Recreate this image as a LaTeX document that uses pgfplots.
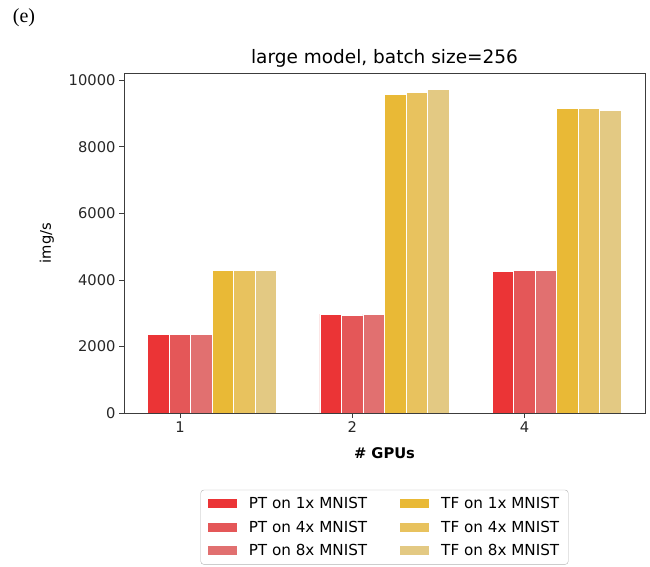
\documentclass[border=0pt]{standalone}
\usepackage{pgfplots}
\pgfplotsset{compat=1.18}
\usepackage{fontspec}
\setmainfont{DejaVu Sans}
\newfontfamily\seriffont{Liberation Serif}
\definecolor{pt1}{RGB}{235,52,54}
\definecolor{pt4}{RGB}{228,87,88}
\definecolor{pt8}{RGB}{225,112,112}
\definecolor{tf1}{RGB}{233,185,54}
\definecolor{tf4}{RGB}{232,194,94}
\definecolor{tf8}{RGB}{227,201,131}
\definecolor{axgray}{RGB}{60,60,60}
\begin{document}
\begin{tikzpicture}
\path[use as bounding box] (0,0) rectangle (650pt,567pt);
\node[font=\seriffont\fontsize{20}{23}\selectfont, anchor=center] at (24pt,549pt) {(e)};
\begin{axis}[
  at={(124pt,154pt)}, anchor=south west,
  width=521pt, height=340pt, scale only axis,
  xmin=-0.325, xmax=2.7, ymin=0, ymax=10220,
  xtick={0,1,2}, xticklabels={1,2,4},
  ytick={0,2000,4000,6000,8000,10000},
  scaled y ticks=false,
  /pgf/number format/assume math mode=true,
  /pgf/number format/1000 sep={},
  tick label style={font=\fontsize{14.7}{17}\selectfont, text=black!85},
  tick align=outside, major tick length=5pt,
  xtick pos=bottom, ytick pos=left,
  axis line style={axgray, line width=0.9pt},
  tick style={axgray, line width=0.8pt},
  every axis title shift=0pt,
  title={large model, batch size=256},
  title style={font=\fontsize{18.5}{21}\selectfont, at={(axis description cs:0.5,1.0285)}, anchor=base, yshift=0pt},
  xlabel={\textbf{\# GPUs}},
  xlabel style={font=\fontsize{14.7}{17}\selectfont, at={(axis description cs:0.5,-0.118)}, anchor=center, yshift=0pt},
  ylabel={img/s},
  ylabel style={font=\fontsize{14.7}{17}\selectfont, at={(axis description cs:-0.148,0.5)}, anchor=center, yshift=0pt},
  legend columns=2,
  legend style={at={(axis description cs:0.5,-0.226)}, anchor=north,
    font=\fontsize{15.2}{17.5}\selectfont, draw=black!30, rounded corners=3pt,
    inner xsep=7pt, inner ysep=5.5pt, row sep=6.5pt,
    /tikz/every odd column/.append style={column sep=10pt},
    /tikz/every even column/.append style={column sep=31pt}},
  legend image code/.code={\fill[#1, draw=none, sharp corners] (0pt,-4.5pt) rectangle (29pt,4.5pt);},
  legend cell align=left,
]
\addplot[ybar, bar width=0.125, bar shift=0pt, fill=pt1, draw=white, line width=0.8pt] coordinates {(-0.125,2365) (0.875,2975) (1.875,4250)};
\addplot[ybar, bar width=0.125, bar shift=0pt, fill=tf1, draw=white, line width=0.8pt] coordinates {(0.25,4293) (1.25,9578) (2.25,9156)};
\addplot[ybar, bar width=0.125, bar shift=0pt, fill=pt4, draw=white, line width=0.8pt] coordinates {(0,2365) (1,2925) (2,4290)};
\addplot[ybar, bar width=0.125, bar shift=0pt, fill=tf4, draw=white, line width=0.8pt] coordinates {(0.375,4293) (1.375,9628) (2.375,9156)};
\addplot[ybar, bar width=0.125, bar shift=0pt, fill=pt8, draw=white, line width=0.8pt] coordinates {(0.125,2365) (1.125,2975) (2.125,4290)};
\addplot[ybar, bar width=0.125, bar shift=0pt, fill=tf8, draw=white, line width=0.8pt] coordinates {(0.5,4293) (1.5,9730) (2.5,9105)};
\legend{PT on 1x MNIST, TF on 1x MNIST, PT on 4x MNIST, TF on 4x MNIST, PT on 8x MNIST, TF on 8x MNIST}
\end{axis}
\end{tikzpicture}
\end{document}
